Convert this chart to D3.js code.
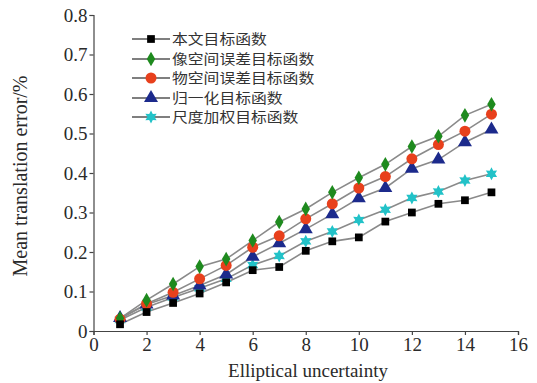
<!DOCTYPE html>
<html><head><meta charset="utf-8">
<script src="https://cdn.jsdelivr.net/npm/d3@7"></script>
<style>body{margin:0;background:#fff}svg{display:block}</style>
</head><body>
<script>
const xValues = [1,2,3,4,5,6,7,8,9,10,11,12,13,14,15];
const seriesNames = ["本文目标函数","像空间误差目标函数","物空间误差目标函数","归一化目标函数","尺度加权目标函数"];
const sBenwen = [0.017,0.048,0.071,0.095,0.123,0.154,0.162,0.203,0.227,0.237,0.277,0.300,0.322,0.331,0.351];
const sXiang  = [0.032,0.078,0.119,0.163,0.182,0.229,0.276,0.309,0.351,0.388,0.422,0.467,0.493,0.546,0.574];
const sWu     = [0.030,0.069,0.098,0.132,0.166,0.212,0.241,0.284,0.322,0.362,0.391,0.436,0.472,0.506,0.549];
const sGuiyi  = [0.033,0.067,0.090,0.115,0.143,0.188,0.222,0.258,0.296,0.336,0.362,0.411,0.434,0.478,0.510];
const sChidu  = [0.028,0.060,0.085,0.108,0.132,0.167,0.190,0.227,0.252,0.281,0.307,0.337,0.353,0.381,0.398];
const xTicks = [0,2,4,6,8,10,12,14,16];
const yTicks = [0,0.1,0.2,0.3,0.4,0.5,0.6,0.7,0.8];

const W=537,H=383;
const svg=d3.select("body").append("svg").attr("width",W).attr("height",H);
const x=d3.scaleLinear().domain([0,16]).range([93.5,518]);
const y=d3.scaleLinear().domain([0,0.8]).range([331,15]);

const serif="'Liberation Serif','Times New Roman',serif";

// axes
const gx=svg.append("g").attr("transform",`translate(0,${y(0)})`)
  .call(d3.axisBottom(x).tickValues(xTicks).tickFormat(d3.format("d")).tickSize(4).tickPadding(3));
const gy=svg.append("g").attr("transform",`translate(${x(0)},0)`)
  .call(d3.axisLeft(y).tickValues(yTicks).tickFormat(d=>d===0?"0":d3.format(".1f")(d)).tickSize(4).tickPadding(2));
[gx,gy].forEach(g=>{
  g.selectAll("path,line").attr("stroke","#444").attr("stroke-width",1.2);
  g.selectAll("text").attr("font-family",serif).attr("font-size",19).attr("fill","#2a2a2a");
});

svg.append("text").attr("x",308).attr("y",377).attr("text-anchor","middle")
  .attr("font-family",serif).attr("font-size",19).attr("fill","#2a2a2a").text("Elliptical uncertainty");
svg.append("text").attr("transform","translate(27,176) rotate(-90)").attr("text-anchor","middle")
  .attr("font-family",serif).attr("font-size",20).attr("fill","#2a2a2a").text("Mean translation error/%");

// star of 6 points
function star6(r){
  const p=d3.path();
  for(let i=0;i<12;i++){
    const a=-Math.PI/2+i*Math.PI/6;
    const rr=i%2===0?r:r*0.55;
    const px=rr*Math.cos(a),py=rr*Math.sin(a);
    if(i===0)p.moveTo(px,py);else p.lineTo(px,py);
  }
  p.closePath();return p.toString();
}

const series=[
  {name:seriesNames[0],vals:sBenwen,color:"#000000",shape:d3.symbol(d3.symbolSquare,60)()},
  {name:seriesNames[1],vals:sXiang,color:"#1e8a1e",shape:d3.symbol(d3.symbolDiamond,62)()},
  {name:seriesNames[2],vals:sWu,color:"#e8401c",shape:d3.symbol(d3.symbolCircle,95)()},
  {name:seriesNames[3],vals:sGuiyi,color:"#1c2a8c",shape:d3.symbol(d3.symbolTriangle,85)()},
  {name:seriesNames[4],vals:sChidu,color:"#22c2c8",shape:star6(6.5)}
];

const line=d3.line().x((d,i)=>x(xValues[i])).y(d=>y(d));
const order=[4,3,2,1,0];
series.forEach(s=>{
  svg.append("path").attr("d",line(s.vals)).attr("fill","none").attr("stroke","#8a8a8a").attr("stroke-width",1.6);
});
order.forEach(k=>{
  const s=series[k];
  svg.append("g").selectAll("path").data(s.vals).join("path")
    .attr("transform",(d,i)=>`translate(${x(xValues[i])},${y(d)})`)
    .attr("d",s.shape).attr("fill",s.color);
});

// legend
const lg=svg.append("g");
const rows=[39,59,78,98,117];
series.forEach((s,i)=>{
  lg.append("line").attr("x1",132).attr("x2",170).attr("y1",rows[i]).attr("y2",rows[i]).attr("stroke","#555").attr("stroke-width",1.3);
  lg.append("path").attr("transform",`translate(151,${rows[i]})`).attr("d",s.shape).attr("fill",s.color);
  lg.append("text").attr("x",172).attr("y",rows[i]+5).attr("font-family","'Noto Sans CJK SC',sans-serif")
    .attr("font-size",13.5).attr("textLength",s.name.length*15.8).attr("lengthAdjust","spacingAndGlyphs")
    .attr("fill","#333").text(s.name);
});
</script>
</body></html>
